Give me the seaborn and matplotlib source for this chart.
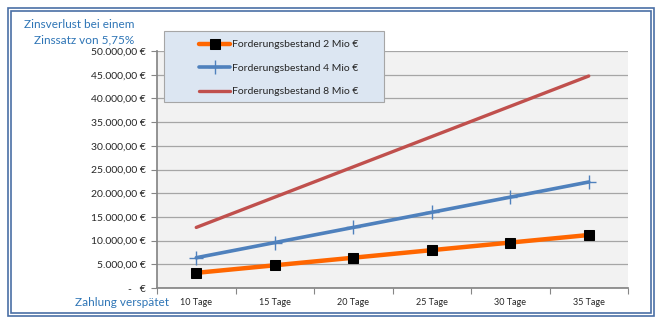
import matplotlib
matplotlib.use("Agg")
import matplotlib.pyplot as plt
import seaborn as sns
import pandas as pd
from matplotlib.patches import Rectangle
from matplotlib.ticker import FuncFormatter, MultipleLocator

days = ["10 Tage", "15 Tage", "20 Tage", "25 Tage", "30 Tage", "35 Tage"]
loss_2mio = [3194.44, 4791.67, 6388.89, 7986.11, 9583.33, 11180.56]
loss_4mio = [6388.89, 9583.33, 12777.78, 15972.22, 19166.67, 22361.11]
loss_8mio = [12777.78, 19166.67, 25555.56, 31944.44, 38333.33, 44722.22]
series_names = ["Forderungsbestand 2 Mio €", "Forderungsbestand 4 Mio €", "Forderungsbestand 8 Mio €"]

rows = []
for name, vals in zip(series_names, [loss_2mio, loss_4mio, loss_8mio]):
    for d, v in zip(days, vals):
        rows.append({"Tage": d, "Zinsverlust": v, "Serie": name})
df = pd.DataFrame(rows)

sns.set_theme(style="white")
plt.rcParams['font.family'] = ['Lato', 'DejaVu Sans']

fig = plt.figure(figsize=(6.64, 3.24), dpi=100)
fig.patch.set_facecolor("white")
ax = fig.add_axes([157/664, 1-288/324, (628-157)/664, (288-51)/324])
ax.set_facecolor("#f2f2f2")

styles = {
    series_names[0]: dict(color="#ff6600", lw=3.2, marker="s", ms=7, mfc="black", mec="black"),
    series_names[1]: dict(color="#4f81bd", lw=2.6, marker="+", ms=10, mew=1.0, mec="#4f81bd"),
    series_names[2]: dict(color="#c0504d", lw=2.4, marker=None),
}
for name in series_names:
    sub = df[df["Serie"] == name]
    sns.lineplot(data=sub, x="Tage", y="Zinsverlust", ax=ax, label=name, **styles[name])

ax.set_xlim(-0.5, 5.5)
ax.set_ylim(0, 50000)
ax.yaxis.set_major_locator(MultipleLocator(5000))

def fmt(v, pos):
    if v == 0:
        return "-   €"
    s = f"{v:,.2f}".replace(",", "X").replace(".", ",").replace("X", ".")
    return s + " €"
ax.yaxis.set_major_formatter(FuncFormatter(fmt))

ax.grid(axis="y", color="#a6a6a6", lw=0.9)
ax.grid(axis="x", visible=False)
for s in ["top", "right"]:
    ax.spines[s].set_visible(False)
ax.spines["left"].set_color("#868686")
ax.spines["bottom"].set_color("#868686")
ax.set_xlabel("")
ax.set_ylabel("")
ax.tick_params(axis="y", labelsize=7.5, colors="#262626", length=4, width=0.8, left=True, color="#868686", pad=4)
ax.set_xticks([i for i in range(6)])
ax.set_xticklabels(days)
ax.set_xticks([i - 0.5 for i in range(7)], minor=True)
ax.tick_params(axis="x", which="major", labelsize=6.5, colors="#262626", length=0, pad=7)
ax.tick_params(axis="x", which="minor", length=4, width=0.8, bottom=True, color="#868686")

# legend box
box = Rectangle((164/664, 1-102/324), 220/664, 71/324, transform=fig.transFigure,
                facecolor="#dce6f2", edgecolor="#a6a6a6", lw=0.8, zorder=10)
fig.add_artist(box)
leg = ax.legend(loc="upper left", bbox_to_anchor=((194-157)/471, (288-35)/237), frameon=False,
                fontsize=7.5, handlelength=3.0, labelspacing=1.35, borderpad=0.5,
                handletextpad=0.1, borderaxespad=0)
leg.remove()
fig.add_artist(leg)
leg.set_zorder(11)
for t in leg.get_texts():
    t.set_color("#262626")

fig.text(134/664, 1-25/324, "Zinsverlust bei einem", ha="right", va="center", fontsize=8.5, color="#2e75b6")
fig.text(134/664, 1-40/324, "Zinssatz von 5,75%", ha="right", va="center", fontsize=8.5, color="#2e75b6")
fig.text(122/664, 1-302/324, "Zahlung verspätet", ha="center", va="center", fontsize=8.5, color="#2e75b6")

fig.patches.append(Rectangle((8/664, 1-316/324), 646/664, 308/324, transform=fig.transFigure,
                             fill=False, edgecolor="#4a6fa5", lw=1.2))
fig.patches.append(Rectangle((11/664, 1-313/324), 640/664, 302/324, transform=fig.transFigure,
                             fill=False, edgecolor="#4a6fa5", lw=1.2))

fig.savefig("out.png", dpi=100)
